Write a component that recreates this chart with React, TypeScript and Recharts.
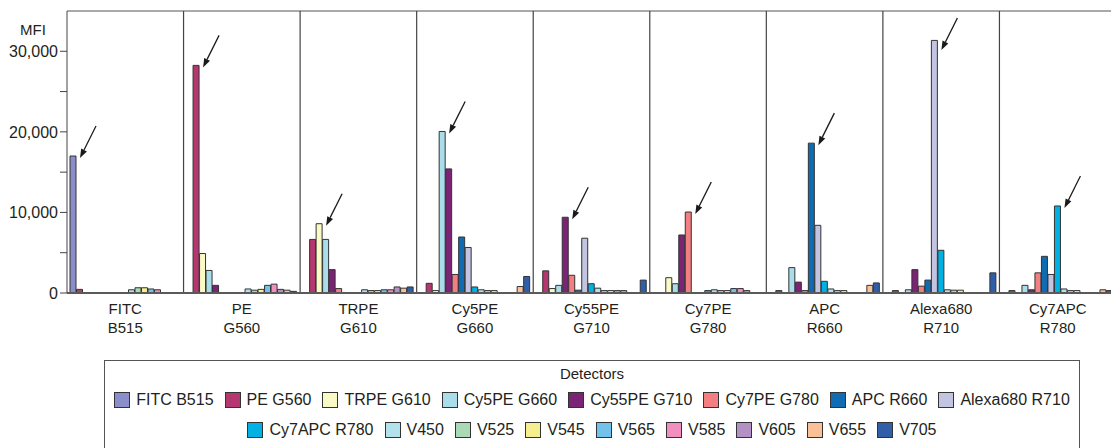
import React from 'react'
import { BarChart, Bar, XAxis, YAxis, ReferenceLine, Rectangle } from 'recharts'

// samples (x categories) = the stained tube for each detector
const groups = ['FITC B515', 'PE G560', 'TRPE G610', 'Cy5PE G660', 'Cy55PE G710', 'Cy7PE G780', 'APC R660', 'Alexa680 R710', 'Cy7APC R780']

const detectors = [
  'FITC B515', 'PE G560', 'TRPE G610', 'Cy5PE G660', 'Cy55PE G710', 'Cy7PE G780',
  'APC R660', 'Alexa680 R710', 'Cy7APC R780', 'V450', 'V525', 'V545', 'V565',
  'V585', 'V605', 'V655', 'V705'
]

const colors = [
  '#8a8fc9', '#b4376f', '#fafac6', '#a9dde9', '#7b2375', '#f37f82',
  '#0f6cb3', '#c3c3e2', '#00b2e3', '#b3e1ec', '#a9d9b5', '#f6ee8f', '#72c2ec',
  '#f18fbe', '#b491c4', '#fbc196', '#305ea9'
]

// MFI per detector, one value per sample in the order of `groups`
const fitcB515 = [17000, 0, 0, 0, 0, 0, 0, 0, 0]
const peG560 = [450, 28250, 6650, 1200, 2750, 0, 300, 300, 300]
const trpeG610 = [0, 4900, 8600, 300, 550, 1900, 0, 0, 0]
const cy5peG660 = [0, 2800, 6650, 20050, 950, 1150, 3150, 400, 950]
const cy55peG710 = [0, 950, 2900, 15400, 9400, 7200, 1350, 2900, 400]
const cy7peG780 = [0, 0, 550, 2300, 2200, 10050, 300, 850, 2500]
const apcR660 = [0, 0, 0, 6950, 350, 0, 18600, 1600, 4550]
const alexa680R710 = [0, 0, 0, 5650, 6800, 0, 8400, 31350, 2300]
const cy7apcR780 = [0, 0, 0, 750, 1150, 300, 1450, 5300, 10800]
const v450 = [400, 500, 400, 400, 600, 400, 500, 400, 500]
const v525 = [650, 350, 300, 300, 300, 300, 300, 350, 300]
const v545 = [650, 450, 300, 300, 300, 300, 300, 350, 300]
const v565 = [500, 950, 400, 0, 300, 550, 0, 0, 0]
const v585 = [400, 1100, 400, 0, 300, 550, 0, 0, 0]
const v605 = [0, 450, 750, 0, 0, 300, 0, 0, 0]
const v655 = [0, 350, 600, 800, 0, 0, 950, 0, 400]
const v705 = [0, 200, 750, 2050, 1600, 0, 1250, 2500, 300]

const series = [
  fitcB515, peG560, trpeG610, cy5peG660, cy55peG710, cy7peG780, apcR660,
  alexa680R710, cy7apcR780, v450, v525, v545, v565, v585, v605, v655, v705
]

const yTicks = [0, 5000, 10000, 15000, 20000, 25000, 30000]
const yLabelled = [0, 10000, 20000, 30000]

const data = groups.map((g, gi) => {
  const row: Record<string, number | string> = { name: g }
  series.forEach((s, di) => { row['d' + di] = s[gi] })
  return row
})

const FONT = '"Liberation Sans", Arial, Helvetica, sans-serif'
const TEXT = '#231f20'

function GroupTick(props: any) {
  const { x, y, payload } = props
  const [a, b] = String(payload.value).split(' ')
  return (
    <text x={x} y={y} textAnchor="middle" fill={TEXT} fontSize={15} fontFamily={FONT}>
      <tspan x={x} dy={13}>{a}</tspan>
      <tspan x={x} dy={19}>{b}</tspan>
    </text>
  )
}

function Arrow({ x, y, width }: { x: number; y: number; width: number }) {
  const tx = x + width + 4
  const ty = Math.max(y + 2, 50)
  const sx = tx + 16
  const sy = ty - 32
  const ang = Math.atan2(ty - sy, tx - sx)
  const len = 9
  const half = 3.2
  const bx = tx - len * Math.cos(ang)
  const by = ty - len * Math.sin(ang)
  const px = -Math.sin(ang) * half
  const py = Math.cos(ang) * half
  return (
    <g>
      <line x1={sx} y1={sy} x2={bx} y2={by} stroke="#1a1a1a" strokeWidth={1.3} />
      <polygon points={`${tx},${ty} ${bx + px},${by + py} ${bx - px},${by - py}`} fill="#1a1a1a" />
    </g>
  )
}

// bar shape; the detector matching its own sample gets an arrow
function makeShape(detIndex: number) {
  return (props: any) => {
    const { x, y, width, height, fill, payload } = props
    const primary = detIndex < groups.length && payload && payload.name === groups[detIndex]
    return (
      <g>
        <Rectangle x={x} y={y} width={width} height={height} fill={fill} stroke="#333" strokeWidth={1} />
        {primary && height > 0 && <Arrow x={x} y={y} width={width} />}
      </g>
    )
  }
}

function DetectorLegend() {
  const rows = [detectors.slice(0, 8), detectors.slice(8)]
  return (
    <div style={{
      position: 'absolute', left: 104, top: 360, width: 976, height: 120,
      border: '1px solid #555', boxSizing: 'border-box', fontFamily: FONT, color: TEXT
    }}>
      <div style={{ textAlign: 'center', fontSize: 15, marginTop: 4, height: 20 }}>Detectors</div>
      {rows.map((row, ri) => (
        <div key={ri} style={{ display: 'flex', justifyContent: 'center', height: 30, alignItems: 'center', gap: 11 }}>
          {row.map(d => {
            const i = detectors.indexOf(d)
            return (
              <div key={d} style={{ display: 'flex', alignItems: 'center', fontSize: 16 }}>
                <span style={{
                  width: 14, height: 14, background: colors[i], border: '1px solid #333',
                  display: 'inline-block', marginRight: 6
                }} />
                <span>{d}</span>
              </div>
            )
          })}
        </div>
      ))}
    </div>
  )
}

export default function App() {
  return (
    <div style={{
      position: 'absolute', left: 0, top: 0, width: 1111, height: 448,
      overflow: 'hidden', background: '#fff'
    }}>
      <BarChart
        width={1116}
        height={350}
        data={data}
        margin={{ top: 11, right: 0, left: 0, bottom: 0 }}
        barCategoryGap={3}
        barGap={0.5}
      >
        <XAxis
          dataKey="name"
          height={57}
          tickLine={false}
          axisLine={{ stroke: '#5a5a5a', strokeWidth: 2 }}
          tick={<GroupTick />}
          interval={0}
        />
        <YAxis
          width={67}
          domain={[0, 35000]}
          ticks={yTicks}
          interval={0}
          tickSize={7}
          tickMargin={2}
          tickLine={{ stroke: '#444' }}
          axisLine={{ stroke: '#444' }}
          tickFormatter={(v: number) => (yLabelled.includes(v) ? v.toLocaleString('en-US') : '')}
          tick={{ fill: TEXT, fontSize: 16, fontFamily: FONT }}
          label={{
            content: () => (
              <text x={20} y={35} fill={TEXT} fontSize={15} fontFamily={FONT}>MFI</text>
            )
          }}
        />
        <ReferenceLine y={35000} stroke="#555" strokeWidth={1} ifOverflow="visible" />
        {groups.slice(1).map(g => (
          <ReferenceLine key={g} x={g} position="start" stroke="#444" strokeWidth={1.2} />
        ))}
        {detectors.map((d, di) => (
          <Bar
            key={d}
            dataKey={'d' + di}
            name={d}
            fill={colors[di]}
            shape={makeShape(di)}
            isAnimationActive={false}
          />
        ))}
      </BarChart>
      <DetectorLegend />
    </div>
  )
}
